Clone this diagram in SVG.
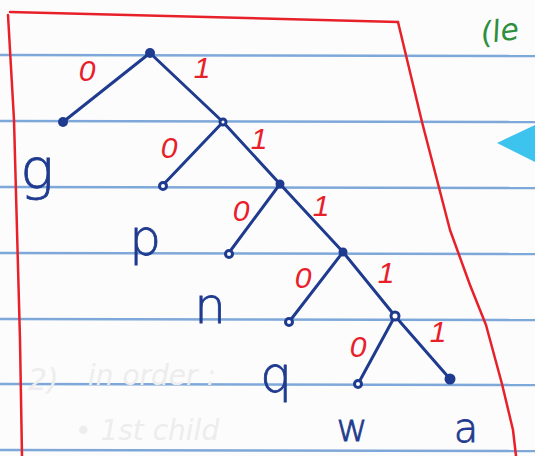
<svg xmlns="http://www.w3.org/2000/svg" width="535" height="456" viewBox="0 0 535 456">
<style>
.rule{stroke:#7ea8da;stroke-width:2.5;fill:none}
.red{stroke:#e8202a;stroke-width:2.5;fill:none;stroke-linecap:round;stroke-linejoin:round}
.edge{stroke:#1f3b8f;stroke-width:3;fill:none;stroke-linecap:round}
.dot{fill:#1f3b8f}
.open{fill:#ffffff;stroke:#1f3b8f;stroke-width:3}
.bit{font-family:"Liberation Sans",sans-serif;font-style:italic;font-size:30px;fill:#e8202a;text-anchor:middle}
.lbl{font-family:"DejaVu Sans",sans-serif;font-weight:200;fill:#1f3b8f;text-anchor:middle;stroke:#1f3b8f;stroke-width:0.8}
.ghost{font-family:"DejaVu Sans",sans-serif;font-style:italic;fill:#ededed}
</style>
<rect width="535" height="456" fill="#fcfcfc"/>
<g id="paper">
<line class="rule" x1="0" y1="55" x2="535" y2="56"/>
<line class="rule" x1="0" y1="121" x2="535" y2="122"/>
<line class="rule" x1="0" y1="187" x2="535" y2="188"/>
<line class="rule" x1="0" y1="253" x2="535" y2="254"/>
<line class="rule" x1="0" y1="319" x2="535" y2="320"/>
<line class="rule" x1="0" y1="384" x2="535" y2="385"/>
<line class="rule" x1="0" y1="450" x2="535" y2="451"/>
</g>
<g id="ghost-text">
<text class="ghost" x="28" y="390" font-size="30">2)</text>
<text class="ghost" x="88" y="385" font-size="28">in order :</text>
<text class="ghost" x="75" y="440" font-size="28">• 1st  child</text>
</g>
<g id="frame">
<path class="red" d="M10,12 L398,22"/>
<path class="red" d="M8,15 L14,120 L17,230 L20,340 L22,456"/>
<path class="red" d="M398,22 L422,122 L450,230 L470,285 L486,325 L502,384 L513,430 L516,456"/>
</g>
<g id="margin-note">
<text x="482" y="44" font-family="DejaVu Sans,sans-serif" font-style="italic" font-size="30" fill="#2f8f3c" transform="rotate(-8 482 44)">(le</text>
<polygon points="497,143 535,125 535,162" fill="#3cc3ee"/>
</g>
<g id="connectors">
<line class="edge" x1="150" y1="53" x2="63" y2="122"/>
<line class="edge" x1="150" y1="53" x2="223" y2="122"/>
<line class="edge" x1="223" y1="122" x2="162" y2="186"/>
<line class="edge" x1="223" y1="122" x2="280" y2="184"/>
<line class="edge" x1="280" y1="184" x2="228" y2="254"/>
<line class="edge" x1="280" y1="184" x2="343" y2="252"/>
<line class="edge" x1="343" y1="252" x2="289" y2="322"/>
<line class="edge" x1="343" y1="252" x2="395" y2="316"/>
<line class="edge" x1="395" y1="316" x2="358" y2="384"/>
<line class="edge" x1="395" y1="316" x2="450" y2="379"/>
<text class="bit" x="87" y="81">0</text>
<text class="bit" x="202" y="78">1</text>
<text class="bit" x="169" y="158">0</text>
<text class="bit" x="259" y="149">1</text>
<text class="bit" x="241" y="221">0</text>
<text class="bit" x="321" y="216">1</text>
<text class="bit" x="303" y="288">0</text>
<text class="bit" x="386" y="283">1</text>
<text class="bit" x="358" y="357">0</text>
<text class="bit" x="438" y="342">1</text>
</g>
<g id="root"><circle class="dot" cx="150" cy="53" r="5"/></g>
<g id="node-g"><circle class="dot" cx="63" cy="122" r="5"/><text class="lbl" x="37" y="188" font-size="56">g</text></g>
<g id="n1"><circle class="open" cx="223" cy="122" r="3"/></g>
<g id="node-p"><circle class="open" cx="163" cy="186" r="3.5"/><text class="lbl" x="145" y="255" font-size="50">p</text></g>
<g id="n2"><circle class="dot" cx="280" cy="184" r="4.5"/></g>
<g id="node-n"><circle class="open" cx="229" cy="254" r="3.5"/><text class="lbl" x="210" y="323" font-size="50">n</text></g>
<g id="n3"><circle class="dot" cx="343" cy="252" r="4.5"/></g>
<g id="node-q"><circle class="open" cx="289" cy="322" r="3.5"/><text class="lbl" x="276" y="392" font-size="50">q</text></g>
<g id="n4"><circle class="open" cx="395" cy="316" r="4"/></g>
<g id="node-w"><circle class="open" cx="358" cy="384" r="3.5"/><text class="lbl" x="352" y="441" font-size="38">w</text></g>
<g id="node-a"><circle class="dot" cx="450" cy="379" r="5.5"/><text class="lbl" x="466" y="442" font-size="40">a</text></g>
</svg>
